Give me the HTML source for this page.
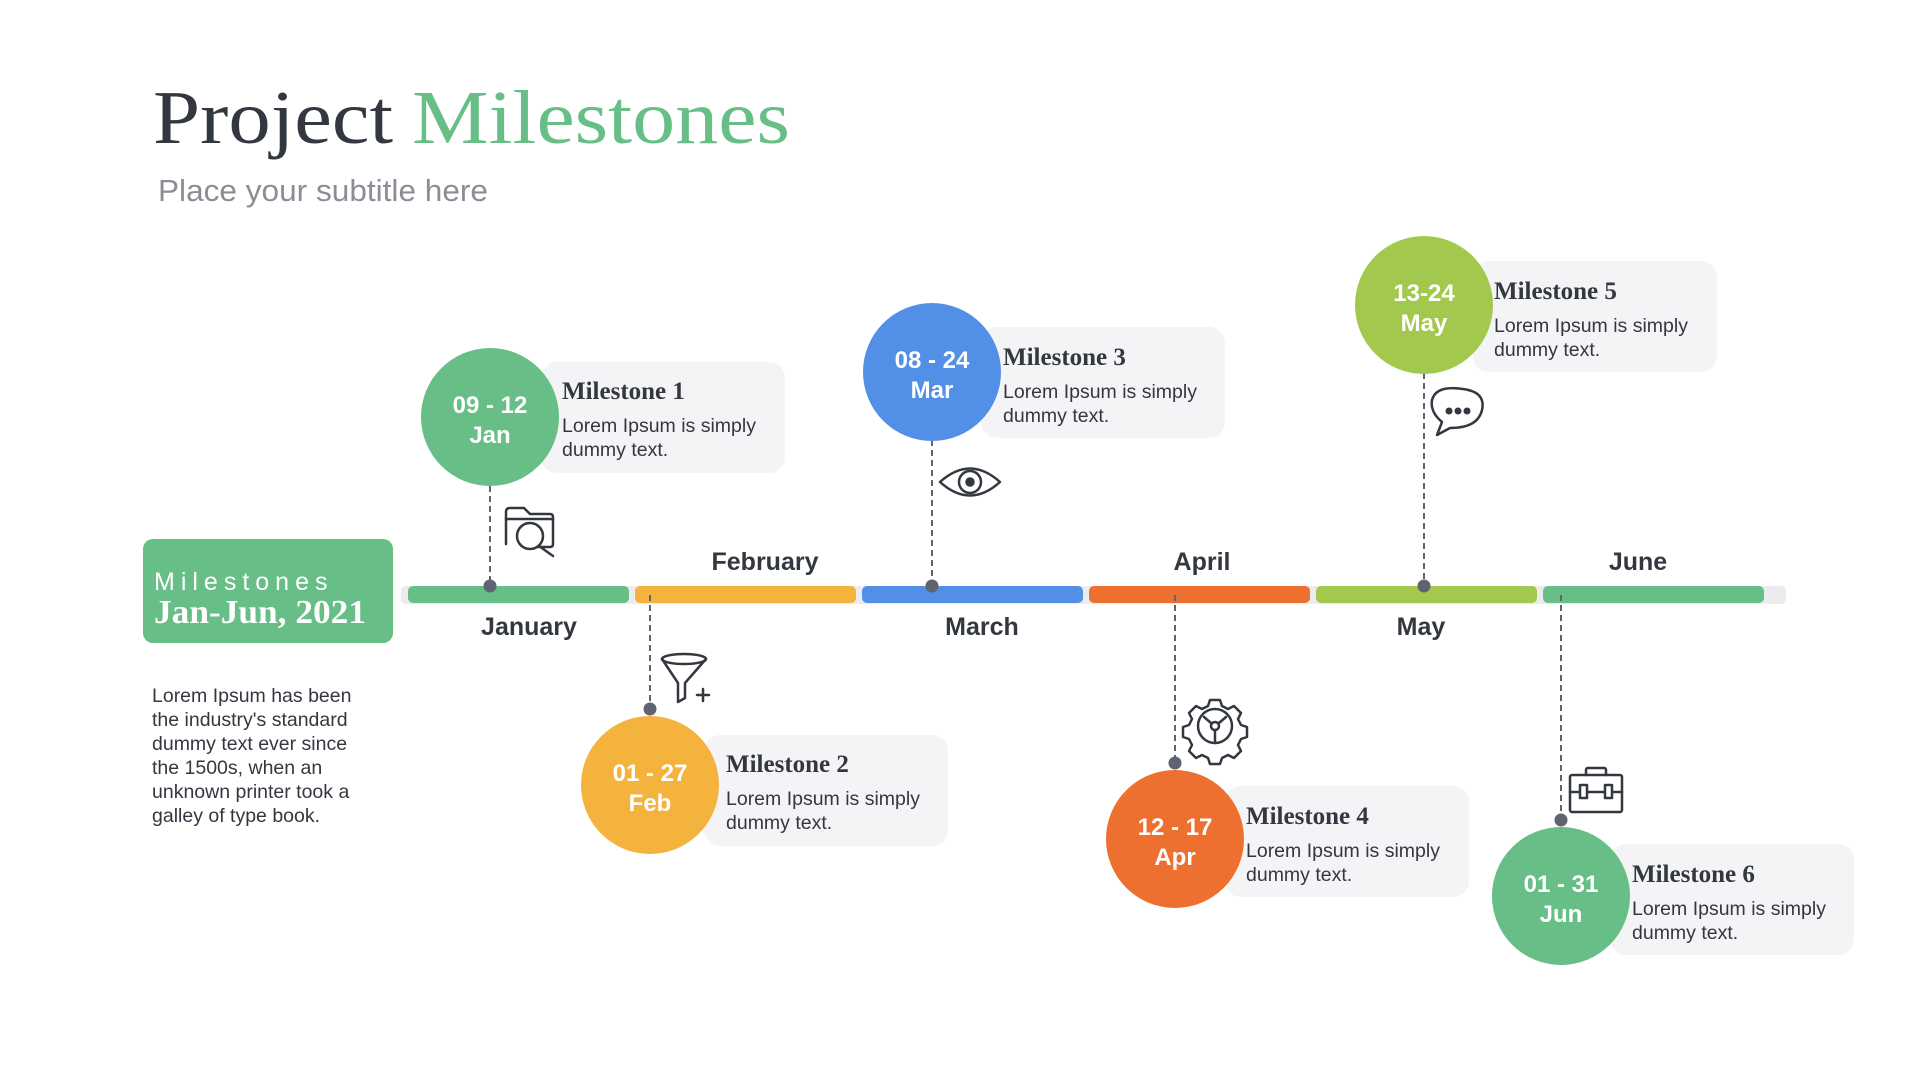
<!DOCTYPE html>
<html><head><meta charset="utf-8"><style>
html,body{margin:0;padding:0;background:#fff;}
svg{display:block}
.s{font-family:"Liberation Sans",sans-serif}
.r{font-family:"Liberation Serif",serif}
</style></head><body>
<svg width="1920" height="1080" viewBox="0 0 1920 1080" xmlns="http://www.w3.org/2000/svg">
<text x="153" y="143" class="r" font-size="76" fill="#333840" textLength="240" lengthAdjust="spacingAndGlyphs">Project</text>
<text x="412" y="143" class="r" font-size="76" fill="#67BE86" textLength="378" lengthAdjust="spacingAndGlyphs">Milestones</text>
<text x="158" y="201" class="s" font-size="31" fill="#8a8e96" textLength="330" lengthAdjust="spacingAndGlyphs">Place your subtitle here</text>

<rect x="143" y="539" width="250" height="104" rx="10" fill="#67BE86"/>
<text x="154" y="590" class="s" font-size="25" fill="#fff" letter-spacing="6">Milestones</text>
<text x="154" y="623" class="r" font-size="34" font-weight="bold" fill="#fff" textLength="212" lengthAdjust="spacingAndGlyphs">Jan-Jun, 2021</text>
<g class="s" font-size="19.5" fill="#333840">
<text x="152" y="702">Lorem Ipsum has been</text>
<text x="152" y="726">the industry's standard</text>
<text x="152" y="750">dummy text ever since</text>
<text x="152" y="774">the 1500s, when an</text>
<text x="152" y="798">unknown printer took a</text>
<text x="152" y="822">galley of type book.</text>
</g>

<rect x="401" y="586" width="1385" height="18" rx="4" fill="#ececee"/>
<rect x="408" y="586" width="221" height="17" rx="5" fill="#67BE86"/>
<rect x="635" y="586" width="221" height="17" rx="5" fill="#F3B33D"/>
<rect x="862" y="586" width="221" height="17" rx="5" fill="#5290E8"/>
<rect x="1089" y="586" width="221" height="17" rx="5" fill="#EE7030"/>
<rect x="1316" y="586" width="221" height="17" rx="5" fill="#A2C84E"/>
<rect x="1543" y="586" width="221" height="17" rx="5" fill="#67BE86"/>

<g class="s" font-size="25" font-weight="bold" fill="#333840" text-anchor="middle">
<text x="529" y="635">January</text>
<text x="765" y="570">February</text>
<text x="982" y="635">March</text>
<text x="1202" y="570">April</text>
<text x="1421" y="635">May</text>
<text x="1638" y="570">June</text>
</g>

<g stroke="#5f6470" stroke-width="2" stroke-dasharray="6,4">
<line x1="490" y1="486" x2="490" y2="586"/>
<line x1="650" y1="595" x2="650" y2="709"/>
<line x1="932" y1="440" x2="932" y2="586"/>
<line x1="1175" y1="595" x2="1175" y2="763"/>
<line x1="1424" y1="373" x2="1424" y2="586"/>
<line x1="1561" y1="595" x2="1561" y2="820"/>
</g>
<g fill="#5f6470">
<circle cx="490" cy="586" r="6.5"/><circle cx="650" cy="709" r="6.5"/>
<circle cx="932" cy="586" r="6.5"/><circle cx="1175" cy="763" r="6.5"/>
<circle cx="1424" cy="586" r="6.5"/><circle cx="1561" cy="820" r="6.5"/>
</g>

<g fill="#f4f4f6">
<rect x="541" y="362" width="244" height="111" rx="16"/>
<rect x="704" y="735" width="244" height="111" rx="16"/>
<rect x="981" y="327" width="244" height="111" rx="16"/>
<rect x="1225" y="786" width="244" height="111" rx="16"/>
<rect x="1473" y="261" width="244" height="111" rx="16"/>
<rect x="1610" y="844" width="244" height="111" rx="16"/>
</g>
<circle cx="490" cy="417" r="69" fill="#67BE86"/>
<circle cx="650" cy="785" r="69" fill="#F3B33D"/>
<circle cx="932" cy="372" r="69" fill="#5290E8"/>
<circle cx="1175" cy="839" r="69" fill="#EE7030"/>
<circle cx="1424" cy="305" r="69" fill="#A2C84E"/>
<circle cx="1561" cy="896" r="69" fill="#67BE86"/>

<g class="s" font-size="24" font-weight="bold" fill="#fff" text-anchor="middle">
<text x="490" y="413">09 - 12</text><text x="490" y="443">Jan</text>
<text x="650" y="781">01 - 27</text><text x="650" y="811">Feb</text>
<text x="932" y="368">08 - 24</text><text x="932" y="398">Mar</text>
<text x="1175" y="835">12 - 17</text><text x="1175" y="865">Apr</text>
<text x="1424" y="301">13-24</text><text x="1424" y="331">May</text>
<text x="1561" y="892">01 - 31</text><text x="1561" y="922">Jun</text>
</g>

<g fill="#333840">
<g class="r" font-size="25" font-weight="bold">
<text x="562" y="399">Milestone 1</text>
<text x="726" y="772">Milestone 2</text>
<text x="1003" y="365">Milestone 3</text>
<text x="1246" y="824">Milestone 4</text>
<text x="1494" y="299">Milestone 5</text>
<text x="1632" y="882">Milestone 6</text>
</g>
<g class="s" font-size="19.5">
<text x="562" y="432">Lorem Ipsum is simply</text><text x="562" y="456">dummy text.</text>
<text x="726" y="805">Lorem Ipsum is simply</text><text x="726" y="829">dummy text.</text>
<text x="1003" y="398">Lorem Ipsum is simply</text><text x="1003" y="422">dummy text.</text>
<text x="1246" y="857">Lorem Ipsum is simply</text><text x="1246" y="881">dummy text.</text>
<text x="1494" y="332">Lorem Ipsum is simply</text><text x="1494" y="356">dummy text.</text>
<text x="1632" y="915">Lorem Ipsum is simply</text><text x="1632" y="939">dummy text.</text>
</g>
</g>

<g fill="none" stroke="#333840" stroke-width="2.5" stroke-linecap="round" stroke-linejoin="round">
<!-- folder search -->
<path d="M506 544 V512 Q506 508 510 508 H524 L530 514 H550 Q553 514 553 517 V544 Q553 547 550 547 H538"/>
<line x1="506" y1="519" x2="553" y2="519"/>
<circle cx="530" cy="536" r="13"/><line x1="539" y1="546" x2="553" y2="556"/>
<!-- eye -->
<path d="M940 482 Q970 455 1000 482 Q970 509 940 482 Z"/>
<circle cx="970" cy="482" r="11"/><circle cx="970" cy="482" r="3.5" fill="#333840"/>
<!-- funnel -->
<ellipse cx="684" cy="659" rx="22" ry="5"/>
<path d="M662 659 L678 683 V702 L685 698 V683 L706 659"/>
<line x1="703" y1="689" x2="703" y2="701"/><line x1="697" y1="695" x2="709" y2="695"/>
<!-- gear -->
<circle cx="1215" cy="726" r="17"/>
<circle cx="1215" cy="726" r="4"/>
<path d="M1211 723 L1204 717 M1219 723 L1226 717 M1215 730 V743"/>
<path d="M1210 700 h10 l2 6 l6 3 l6-3 l7 7 l-3 6 l3 6 l6 2 v10 l-6 2 l-3 6 l3 6 l-7 7 l-6-3 l-6 3 l-2 6 h-10 l-2-6 l-6-3 l-6 3 l-7-7 l3-6 l-3-6 l-6-2 v-10 l6-2 l3-6 l-3-6 l7-7 l6 3 l6-3 z"/>
<!-- chat -->
<path d="M1437 435 L1442 422 Q1430 412 1432 400 Q1436 385 1463 389 Q1486 392 1482 410 Q1478 428 1450 428 Z"/>
<!-- toolbox -->
<rect x="1570" y="775" width="52" height="37" rx="2"/>
<path d="M1586 775 V770 Q1586 768 1588 768 H1604 Q1606 768 1606 770 V775"/>
<line x1="1570" y1="792" x2="1622" y2="792"/>
<rect x="1580" y="785" width="7" height="13" fill="#fff"/><rect x="1605" y="785" width="7" height="13" fill="#fff"/>
</g>
<g fill="#333840"><circle cx="1449" cy="411" r="3.5"/><circle cx="1458" cy="411" r="3.5"/><circle cx="1467" cy="411" r="3.5"/></g>
</svg>
</body></html>
